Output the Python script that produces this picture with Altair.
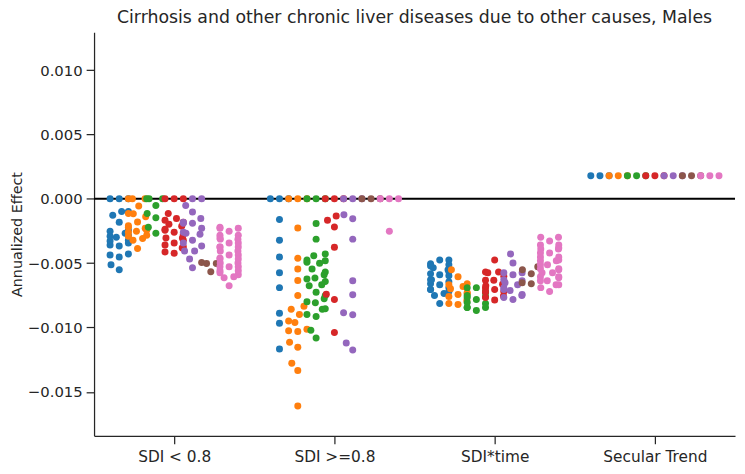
import json
import numpy as np
import pandas as pd
import altair as alt

# ---------------- data ----------------
categories = ["SDI < 0.8", "SDI >=0.8", "SDI*time", "Secular Trend"]
groups = ["Group 1", "Group 2", "Group 3", "Group 4", "Group 5", "Group 6", "Group 7"]
palette = ["#1f77b4", "#ff7f0e", "#2ca02c", "#d62728", "#9467bd", "#8c564b", "#e377c2"]

# values are annualized effects in units of 1e-4
sdi_low = [
    [0, 0, 0, -9.8, -12.8, -9.8, -18.2, -24.4, -26.7, -29.8, -32.8, -35.9, -28.2, -32.1,
     -25.2, -29.0, -34.4, -36.7, -43.6, -45.2, -42.8, -51.3, -55.2],
    [0, 0, 0, -5.5, -11.5, -11.3, -14.0, -18.0, -20.9, -24.4, -22.8, -25.9, -29.0, -32.1,
     -22.1, -25.2, -28.2, -30.8, -38.5],
    [0, 0, 0, -5.2, -11.3, -14.6, -22.1, -26.7],
    [0, 0, 0, -11.3, -16.7, -15.2, -18.2, -21.3, -24.4, -27.5, -30.5, -34.4, -38.2, -41.3,
     -23.6, -19.8, -25.9, -30.5, -32.1, -35.9, -37.5, -42.3],
    [0, 0, -5.1, -10.3, -15.2, -19.0, -22.8, -26.7, -32.1, -40.5, -19.0, -18.2, -27.5,
     -25.9, -34.4, -36.7, -40.5, -46.7, -53.6],
    [-49.5, -50.2, -50.2, -56.7],
    [-22.1, -25.2, -28.2, -31.3, -34.4, -37.5, -40.5, -43.6, -46.7, -49.8, -52.8, -55.9,
     -59.0, -61.3, -22.8, -30.5, -37.5, -46.0, -52.8, -60.5, -67.5, -22.8, -28.2, -31.3,
     -34.4, -37.5, -40.5, -43.6, -46.7, -49.8, -52.8, -55.9, -57.5],
]
sdi_high = [
    [0, 0, 0, -16.0, -32.1, -45.2, -57.5, -69.0, -89.0, -96.7, -116.7],
    [0, 0, 0, -22.6, -46.2, -54.6, -63.4, -75.2, -83.4, -85.9, -89.8, -96.2, -94.9, -102.6,
     -103.1, -101.3, -111.5, -115.4, -127.7, -133.4, -161.1],
    [0, 0, 0, -19.2, -31.3, -44.2, -42.8, -47.5, -49.2, -50.0, -48.2, -54.6, -56.9, -59.0,
     -61.5, -62.3, -64.2, -67.5, -66.7, -72.6, -75.2, -77.7, -80.0, -80.8, -85.9, -85.4,
     -89.8, -91.5, -102.1, -108.2],
    [0, 0, 0, -16.7, -13.4, -21.8, -37.7, -74.2, -78.2, -103.8],
    [0, 0, 0, -12.3, -15.4, -31.3, -63.6, -74.6, -88.5, -90.0, -112.1, -117.5],
    [0, 0, 0],
    [0, 0, 0, -25.2],
]
sdi_time = [
    [-47.5, -50.5, -53.6, -56.7, -59.8, -62.8, -65.9, -69.0, -72.1, -75.2, -52.1, -58.2,
     -64.4, -70.5, -81.3, -47.5, -51.3, -55.2, -59.0, -62.8, -66.7, -70.5, -73.6],
    [-55.2, -60.5, -66.7, -69.8, -72.8, -75.9, -79.0, -82.1, -68.2, -74.4, -81.3, -65.9, -73.6],
    [-69.0, -72.1, -75.2, -78.2, -81.3, -84.4, -86.7, -69.0, -75.9, -84.4, -72.8, -76.7,
     -80.5, -84.4],
    [-47.5, -56.9, -60.1, -63.2, -66.3, -69.3, -72.4, -75.5, -78.6, -56.9, -57.5, -63.2,
     -67.5, -70.5, -72.1, -76.7],
    [-42.8, -49.8, -59.0, -62.8, -66.7, -70.5, -74.4, -78.2, -57.5, -57.5, -63.6, -65.2,
     -69.0, -71.3, -75.2, -76.7],
    [-52.8, -55.2, -58.2, -65.2, -65.9],
    [-35.9, -39.0, -42.1, -45.2, -48.2, -51.3, -54.4, -57.5, -60.5, -63.6, -66.7, -69.0,
     -29.8, -38.2, -47.5, -55.2, -61.3, -72.1, -29.8, -32.8, -35.9, -39.0, -42.1, -45.2,
     -48.2, -51.3, -54.4, -57.5, -60.5, -63.6, -66.7],
]
secular = [
    [17.9, 17.9, 17.9],
    [17.9, 17.9, 17.9],
    [17.9, 17.9, 17.9],
    [17.9, 17.9, 17.9],
    [17.9, 17.9, 17.9],
    [17.9, 17.9, 17.9],
    [17.9, 17.9, 17.9],
]
all_values = [sdi_low, sdi_high, sdi_time, secular]
UNIT = 1e-4

y_ticks = [-0.015, -0.010, -0.005, 0.0, 0.005, 0.010]
y_domain = [-0.01842, 0.01295]
title_text = "Cirrhosis and other chronic liver diseases due to other causes, Males"

# ---------------- layout ----------------
W, H = 648, 408
x_domain = [-0.5, 3.5]
px_per_x = W / (x_domain[1] - x_domain[0])
px_per_y = H / (y_domain[1] - y_domain[0])
dodge_width = 0.8
n_h = len(groups)
hue_w = dodge_width / n_h
gutter_px = hue_w / 2 * px_per_x
swarm_d = 9.4  # marker spacing used by the swarm layout (px)


def beeswarm(ys, d):
    """Seaborn-style swarm: returns x offsets (px) for points at heights ys (px)."""
    order = np.argsort(ys, kind="stable")
    xs = np.zeros(len(ys))
    swarm = []
    for idx in order:
        y_i = ys[idx]
        neighbors = []
        for xj, yj in reversed(swarm):
            if y_i - yj < d:
                neighbors.append((xj, yj))
            else:
                break
        neighbors.reverse()
        cands = [(0.0, y_i)]
        left_first = True
        for xj, yj in neighbors:
            dy = y_i - yj
            dx = np.sqrt(max(d * d - dy * dy, 0.0)) * 1.05
            cl, cr = (xj - dx, y_i), (xj + dx, y_i)
            cands.extend([cl, cr] if left_first else [cr, cl])
            left_first = not left_first
        cands.sort(key=lambda c: abs(c[0]))
        chosen = cands[0]
        for c in cands:
            if all((c[0] - xj) ** 2 + (c[1] - yj) ** 2 >= d * d - 1e-9 for xj, yj in neighbors):
                chosen = c
                break
        swarm.append(chosen)
        xs[idx] = chosen[0]
    return np.clip(xs, -gutter_px, gutter_px)


rows = []
k = 0
for ci, cat in enumerate(categories):
    for hi, grp in enumerate(groups):
        vals = np.array(all_values[ci][hi], dtype=float) * UNIT
        offs = beeswarm(vals * px_per_y, swarm_d)
        center = ci - dodge_width / 2 + hue_w / 2 + hi * hue_w
        for v, o in zip(vals, offs):
            rows.append({"category": cat, "group": grp, "value": v,
                         "xpos": center + o / px_per_x, "draw": k})
            k += 1
df = pd.DataFrame(rows)

label_expr = json.dumps(categories) + "[round(datum.value)]"
font = "DejaVu Sans"
ink = "#262626"

y_scale = alt.Scale(domain=y_domain, nice=False, zero=False)

zero_line = alt.Chart(pd.DataFrame({"value": [0.0]})).mark_rule(
    color="black", strokeWidth=2
).encode(y=alt.Y("value:Q", scale=y_scale))

points = alt.Chart(df).mark_circle(size=50, opacity=1).encode(
    x=alt.X("xpos:Q", scale=alt.Scale(domain=x_domain, nice=False, zero=False),
            axis=alt.Axis(values=[0, 1, 2, 3], labelExpr=label_expr, title=None,
                          grid=False, tickSize=8, labelPadding=6, labelFontSize=15.5)),
    y=alt.Y("value:Q", scale=y_scale,
            axis=alt.Axis(values=y_ticks, format=".3f", title="Annualized Effect",
                          grid=False, tickSize=8, labelPadding=4,
                          titleX=-70, titleY=H / 2, titleAngle=270,
                          titleBaseline="bottom", titleAlign="center",
                          labelFontSize=15)),
    color=alt.Color("group:N", scale=alt.Scale(domain=groups, range=palette), legend=None),
    order=alt.Order("draw:Q"),
)

chart = alt.layer(zero_line, points).properties(
    width=W, height=H,
    title=alt.TitleParams(title_text, font=font, fontSize=17.5, fontWeight="normal",
                          color=ink, anchor="middle", offset=6),
    autosize=alt.AutoSizeParams(type="none"),
    padding={"left": 87, "top": 22, "right": 2, "bottom": 30},
).configure_view(stroke=None).configure_axis(
    labelFont=font, titleFont=font, titleFontSize=14.5,
    labelColor=ink, titleColor=ink, titleFontWeight="normal",
    domainColor=ink, domainWidth=1.25, tickColor=ink, tickWidth=1.25,
)

chart.save("out.html", embed_options={"renderer": "svg", "actions": False})
